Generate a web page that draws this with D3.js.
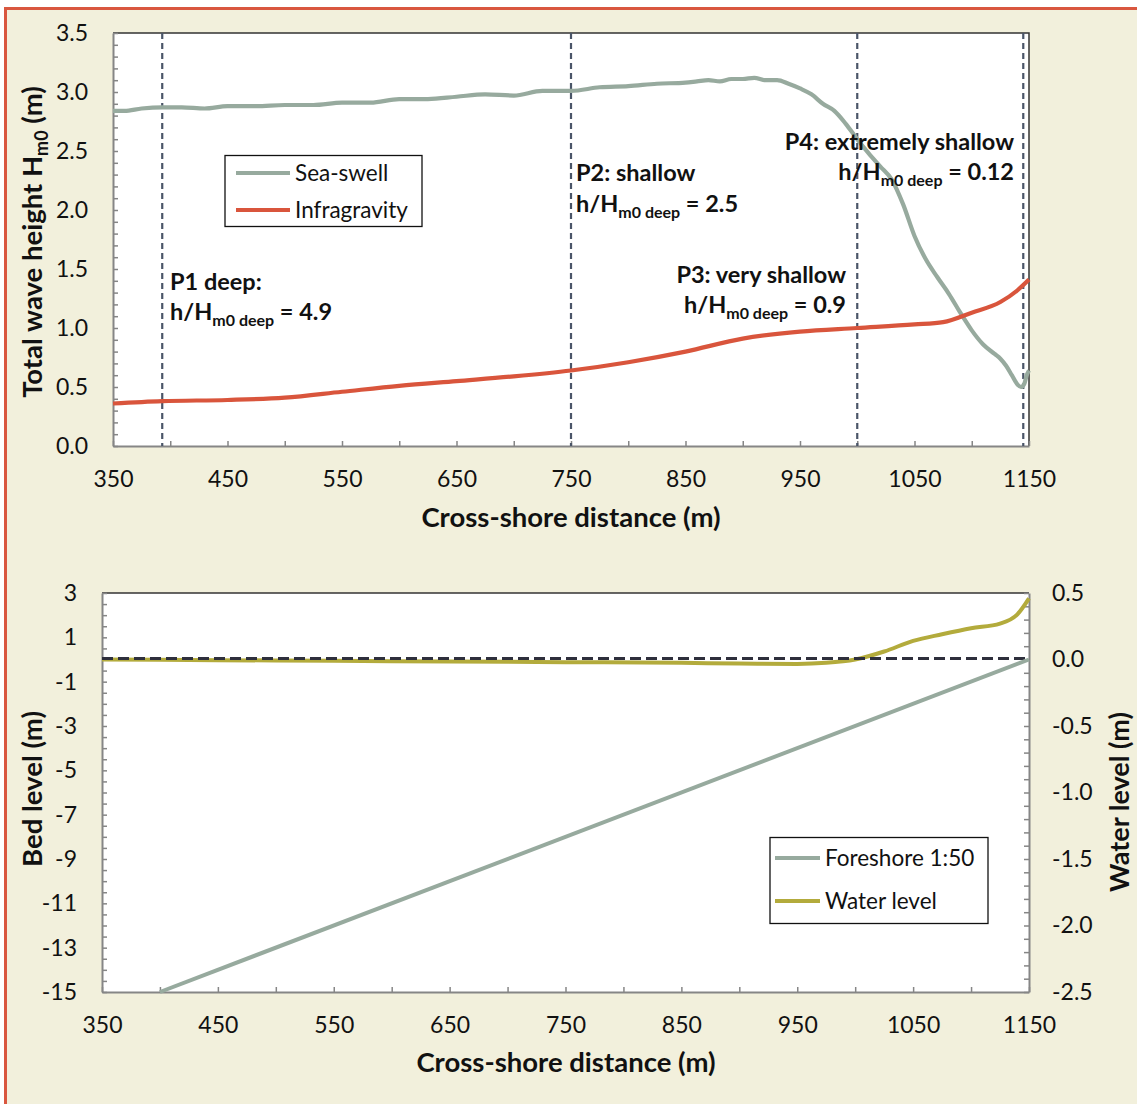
<!DOCTYPE html>
<html>
<head>
<meta charset="utf-8">
<script src="https://cdn.jsdelivr.net/npm/d3@7"></script>
<style>
  body { margin: 0; background: #fff; }
  svg text { font-family: Lato, "Open Sans", sans-serif; fill: #111; }
  .tick text { font-size: 23px; }
  .b { font-weight: bold; }
</style>
</head>
<body>
<svg id="chart" width="1137" height="1104"></svg>
<script>
// cross-shore distance of the wave height series (m)
const seaX = [350, 360, 375, 393, 410, 430, 450, 475, 500, 525, 550, 575, 600, 625, 650, 675, 700, 725, 750, 775, 800, 825, 850, 860, 870, 880, 890, 900, 910, 920, 930, 940, 950, 960, 970, 980, 990, 1000, 1010, 1020, 1030, 1040, 1050, 1060, 1070, 1080, 1090, 1100, 1110, 1120, 1125, 1130, 1135, 1140, 1143, 1146, 1148, 1150];
const seaSwell = [2.84, 2.84, 2.86, 2.87, 2.87, 2.86, 2.88, 2.88, 2.89, 2.89, 2.91, 2.91, 2.94, 2.94, 2.96, 2.98, 2.97, 3.01, 3.01, 3.04, 3.05, 3.07, 3.08, 3.09, 3.10, 3.09, 3.11, 3.11, 3.12, 3.10, 3.10, 3.07, 3.03, 2.98, 2.90, 2.84, 2.73, 2.60, 2.48, 2.37, 2.26, 2.05, 1.78, 1.58, 1.43, 1.29, 1.13, 0.98, 0.86, 0.78, 0.74, 0.68, 0.60, 0.52, 0.50, 0.53, 0.60, 0.64];

const igX = [350, 393, 450, 500, 550, 600, 650, 700, 750, 800, 850, 900, 950, 1000, 1050, 1075, 1100, 1125, 1140, 1150];
const infragravity = [0.36, 0.38, 0.39, 0.41, 0.46, 0.51, 0.55, 0.59, 0.64, 0.71, 0.80, 0.91, 0.97, 1.00, 1.03, 1.05, 1.13, 1.22, 1.32, 1.41];

// measurement points P1..P4
const pointX = [393, 750, 1000, 1145];

// bottom panel
const bedX = [400, 1150];
const bedLevel = [-15, 0];
const wlX = [350, 450, 550, 650, 750, 850, 900, 950, 975, 1000, 1025, 1050, 1075, 1100, 1125, 1140, 1150];
const waterLevel = [0.0, -0.005, -0.01, -0.015, -0.02, -0.025, -0.03, -0.033, -0.025, 0.0, 0.06, 0.14, 0.19, 0.235, 0.27, 0.34, 0.46];

const xTicks = [350, 450, 550, 650, 750, 850, 950, 1050, 1150];
const hTicks = [0, 0.5, 1.0, 1.5, 2.0, 2.5, 3.0, 3.5];
const bedTicks = [3, 1, -1, -3, -5, -7, -9, -11, -13, -15];
const wlTicks = [0.5, 0.0, -0.5, -1.0, -1.5, -2.0, -2.5];

const cSea = '#97aa9e', cIG = '#d9553c', cWL = '#b3ab3c';

const svg = d3.select('#chart');

// background frame
svg.append('rect').attr('x', 5.5).attr('y', 8.5).attr('width', 1200).attr('height', 1200)
  .attr('fill', '#f2f0dc').attr('stroke', '#d9573f').attr('stroke-width', 3);

function styleAxis(sel) {
  sel.select('.domain').attr('stroke', '#868686').attr('stroke-width', 2);
  sel.selectAll('.tick line').attr('stroke', '#868686').attr('stroke-width', 1.5);
}
const plain = d => String(d);
const oneDec = d => d.toFixed(1);

// ---------- top panel ----------
const x1 = d3.scaleLinear().domain([350, 1150]).range([113, 1029]);
const y1 = d3.scaleLinear().domain([0, 3.5]).range([446, 33]);

const topG = svg.append('g');
topG.append('rect').attr('x', 113).attr('y', 33).attr('width', 916).attr('height', 413).attr('fill', '#fff');
topG.append('path').attr('d', `M113,33H1029V446`).attr('fill', 'none').attr('stroke', '#333').attr('stroke-width', 1.5);

topG.append('g').attr('transform', 'translate(0,446)')
  .call(d3.axisBottom(x1).tickValues(d3.range(350, 1151, 50)).tickSize(-5).tickSizeOuter(0).tickFormat(''))
  .call(styleAxis);
topG.append('g').attr('transform', 'translate(0,446)')
  .call(d3.axisBottom(x1).tickValues(xTicks).tickSize(0).tickPadding(25).tickFormat(plain))
  .call(g => g.select('.domain').remove());

topG.append('g').attr('transform', 'translate(113,0)')
  .call(d3.axisLeft(y1).tickValues(d3.range(0, 36).map(d => d / 10)).tickSize(-5).tickSizeOuter(0).tickFormat(''))
  .call(styleAxis);
topG.append('g').attr('transform', 'translate(113,0)')
  .call(d3.axisLeft(y1).tickValues(hTicks).tickSize(0).tickPadding(25).tickFormat(oneDec))
  .call(g => g.select('.domain').remove());

topG.selectAll('.vline').data(pointX).join('line')
  .attr('x1', d => x1(d)).attr('x2', d => x1(d)).attr('y1', 33).attr('y2', 446)
  .attr('stroke', '#4a5568').attr('stroke-width', 2.2).attr('stroke-dasharray', '6,4');

const line1 = d3.line().x(d => x1(d[0])).y(d => y1(d[1])).curve(d3.curveMonotoneX);
topG.append('path').datum(d3.zip(seaX, seaSwell)).attr('d', line1)
  .attr('fill', 'none').attr('stroke', cSea).attr('stroke-width', 4.2);
topG.append('path').datum(d3.zip(igX, infragravity)).attr('d', line1)
  .attr('fill', 'none').attr('stroke', cIG).attr('stroke-width', 4.2);

// legend top
const lg1 = topG.append('g');
lg1.append('rect').attr('x', 225).attr('y', 155.5).attr('width', 197).attr('height', 71)
  .attr('fill', '#fff').attr('stroke', '#111').attr('stroke-width', 1.3);
[['Sea-swell', cSea, 173], ['Infragravity', cIG, 210]].forEach(([t, c, yy]) => {
  lg1.append('line').attr('x1', 236).attr('x2', 290).attr('y1', yy).attr('y2', yy).attr('stroke', c).attr('stroke-width', 4);
  lg1.append('text').attr('x', 295).attr('y', yy + 8).attr('font-size', 22.5).text(t);
});

// annotations
function ratio(g, x, y, val, anchor) {
  const t = g.append('text').attr('class', 'b').attr('x', x).attr('y', y).attr('font-size', 23.5).attr('text-anchor', anchor);
  t.append('tspan').text('h/H');
  t.append('tspan').attr('font-size', 16).attr('dy', 6).text('m0 deep');
  t.append('tspan').attr('dy', -6).text(' = ' + val);
}
function label(g, x, y, s, anchor) {
  g.append('text').attr('class', 'b').attr('x', x).attr('y', y).attr('font-size', 23.5).attr('text-anchor', anchor).text(s);
}
label(topG, 170, 290, 'P1 deep:', 'start');
ratio(topG, 170, 320, '4.9', 'start');
label(topG, 576, 181, 'P2: shallow', 'start');
ratio(topG, 576, 212, '2.5', 'start');
label(topG, 846, 283, 'P3: very shallow', 'end');
ratio(topG, 846, 313, '0.9', 'end');
label(topG, 1014, 150, 'P4: extremely shallow', 'end');
ratio(topG, 1014, 180, '0.12', 'end');

// titles
topG.append('text').attr('class', 'b').attr('x', 571).attr('y', 527).attr('text-anchor', 'middle').attr('font-size', 27.5)
  .text('Cross-shore distance (m)');
const yt1 = topG.append('text').attr('class', 'b').attr('transform', 'translate(42,242) rotate(-90)')
  .attr('text-anchor', 'middle').attr('font-size', 27.5);
yt1.append('tspan').text('Total wave height H');
yt1.append('tspan').attr('font-size', 18).attr('dy', 6).text('m0');
yt1.append('tspan').attr('dy', -6).text(' (m)');

// ---------- bottom panel ----------
const x2 = d3.scaleLinear().domain([350, 1150]).range([102, 1029]);
const yb = d3.scaleLinear().domain([-15, 3]).range([992, 593]);
const yw = d3.scaleLinear().domain([-2.5, 0.5]).range([992, 593]);

const botG = svg.append('g');
botG.append('rect').attr('x', 102).attr('y', 593).attr('width', 927).attr('height', 399).attr('fill', '#fff');
botG.append('path').attr('d', 'M102,593H1029').attr('stroke', '#333').attr('stroke-width', 1.5);

botG.append('g').attr('transform', 'translate(0,992)')
  .call(d3.axisBottom(x2).tickValues(d3.range(350, 1151, 50)).tickSize(-5).tickSizeOuter(0).tickFormat(''))
  .call(styleAxis);
botG.append('g').attr('transform', 'translate(0,992)')
  .call(d3.axisBottom(x2).tickValues(xTicks).tickSize(0).tickPadding(25).tickFormat(plain))
  .call(g => g.select('.domain').remove());

botG.append('g').attr('transform', 'translate(102,0)')
  .call(d3.axisLeft(yb).tickValues(d3.range(-15, 3.01, 0.5)).tickSize(-5).tickSizeOuter(0).tickFormat(''))
  .call(styleAxis);
botG.append('g').attr('transform', 'translate(102,0)')
  .call(d3.axisLeft(yb).tickValues(bedTicks).tickSize(0).tickPadding(25).tickFormat(plain))
  .call(g => g.select('.domain').remove());

botG.append('g').attr('transform', 'translate(1029,0)')
  .call(d3.axisRight(yw).tickValues(d3.range(-25, 6).map(d => d / 10)).tickSize(-5).tickSizeOuter(0).tickFormat(''))
  .call(styleAxis);
botG.append('g').attr('transform', 'translate(1029,0)')
  .call(d3.axisRight(yw).tickValues(wlTicks).tickSize(0).tickPadding(23).tickFormat(oneDec))
  .call(g => g.select('.domain').remove());

botG.append('path').datum(d3.zip(wlX, waterLevel))
  .attr('d', d3.line().x(d => x2(d[0])).y(d => yw(d[1])).curve(d3.curveMonotoneX))
  .attr('fill', 'none').attr('stroke', cWL).attr('stroke-width', 4);
botG.append('line').attr('x1', 102).attr('x2', 1029).attr('y1', yw(0) - 1).attr('y2', yw(0) - 1)
  .attr('stroke', '#2e2f3c').attr('stroke-width', 3).attr('stroke-dasharray', '11,5');
botG.append('path').datum(d3.zip(bedX, bedLevel))
  .attr('d', d3.line().x(d => x2(d[0])).y(d => yb(d[1])))
  .attr('fill', 'none').attr('stroke', cSea).attr('stroke-width', 4);

const lg2 = botG.append('g');
lg2.append('rect').attr('x', 770).attr('y', 837.5).attr('width', 218).attr('height', 86)
  .attr('fill', '#fff').attr('stroke', '#111').attr('stroke-width', 1.3);
[['Foreshore 1:50', cSea, 858], ['Water level', cWL, 901]].forEach(([t, c, yy]) => {
  lg2.append('line').attr('x1', 775).attr('x2', 820).attr('y1', yy).attr('y2', yy).attr('stroke', c).attr('stroke-width', 4);
  lg2.append('text').attr('x', 825).attr('y', yy + 8).attr('font-size', 22.5).text(t);
});

botG.append('text').attr('class', 'b').attr('x', 566).attr('y', 1072).attr('text-anchor', 'middle').attr('font-size', 27.5)
  .text('Cross-shore distance (m)');
botG.append('text').attr('class', 'b').attr('transform', 'translate(42,789) rotate(-90)')
  .attr('text-anchor', 'middle').attr('font-size', 27.5).text('Bed level (m)');
botG.append('text').attr('class', 'b').attr('transform', 'translate(1129,802) rotate(-90)')
  .attr('text-anchor', 'middle').attr('font-size', 27).text('Water level (m)');
</script>
</body>
</html>
